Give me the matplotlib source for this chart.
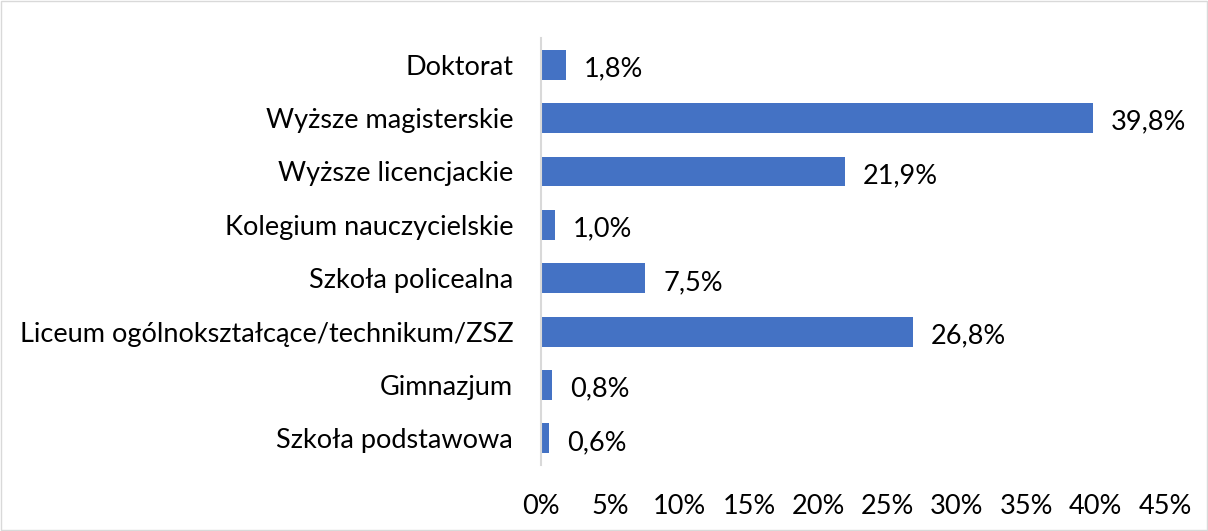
import matplotlib.pyplot as plt
from matplotlib.patches import Rectangle

plt.rcParams['font.family'] = ['Lato', 'DejaVu Sans']

kategorie = ['Doktorat', 'Wyższe magisterskie', 'Wyższe licencjackie',
             'Kolegium nauczycielskie', 'Szkoła policealna',
             'Liceum ogólnokształcące/technikum/ZSZ', 'Gimnazjum',
             'Szkoła podstawowa']
wartosci = [1.8, 39.8, 21.9, 1.0, 7.5, 26.8, 0.8, 0.6]
ticki = [0, 5, 10, 15, 20, 25, 30, 35, 40, 45]

fig = plt.figure(figsize=(12.08, 5.31), dpi=100)
ax = fig.add_axes([0.4478, 0.1243, 0.5166, 0.8041])

pos = list(range(len(kategorie)))
bars = ax.barh(pos, wartosci, height=0.56, color='#4472C4')
ax.set_ylim(len(kategorie) - 0.5, -0.5)
ax.set_xlim(0, 45)

fs = 19.5
ax.set_yticks(pos)
ax.set_yticklabels(kategorie, fontsize=fs)
ax.set_xticks(ticki)
ax.set_xticklabels([f'{t}%' for t in ticki], fontsize=fs)
ax.tick_params(axis='y', length=0, pad=20)
ax.tick_params(axis='x', length=0, pad=21)

for s in ['top', 'right', 'bottom']:
    ax.spines[s].set_visible(False)
ax.spines['left'].set_color('#D9D9D9')
ax.spines['left'].set_linewidth(1.5)

# etykiety wartosci, lekko ponizej srodka slupka jak w Excelu
for b, v in zip(bars, wartosci):
    ax.annotate(f'{v:.1f}%'.replace('.', ','),
                (b.get_width(), b.get_y() + b.get_height() / 2),
                xytext=(13, -3), textcoords='offset points',
                ha='left', va='center', fontsize=fs)

fig.patches.append(Rectangle((0.001, 0.001), 0.998, 0.998, transform=fig.transFigure,
                             fill=False, edgecolor='#D9D9D9', linewidth=1))

plt.savefig('out.png', dpi=100)
